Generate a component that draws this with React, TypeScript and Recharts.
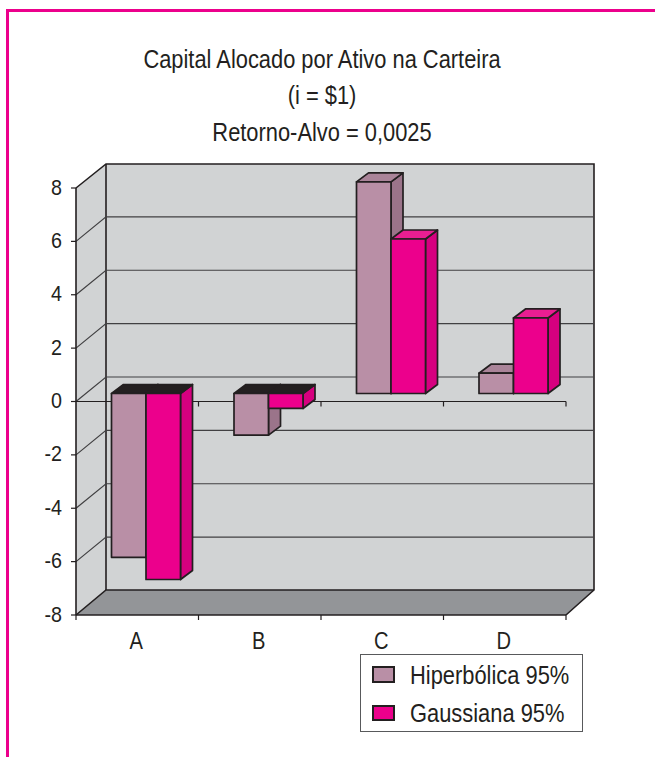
import React from "react";
import { BarChart, Bar, XAxis, YAxis, ReferenceArea, ReferenceLine, Legend } from "recharts";

const categories = ["A", "B", "C", "D"];
const hiperbolica = [-6.14, -1.56, 7.93, 0.76];
const gaussiana = [-6.97, -0.56, 5.79, 2.83];
const yTicks = [-8, -6, -4, -2, 0, 2, 4, 6, 8];
const innerGrid = [-6, -4, -2, 0, 2, 4, 6];
const titleLines = ["Capital Alocado por Ativo na Carteira", "(i = $1)", "Retorno-Alvo = 0,0025"];
const seriesNames = ["Hiperbólica 95%", "Gaussiana 95%"];

const data = categories.map((c, i) => ({ c, h: hiperbolica[i], g: gaussiana[i] }));

const FONT = "'Liberation Sans', Arial, sans-serif";
const NARROW = 0.875;
const INK = "#231f20";
const PINK = "#ec008c";
const WALL = "#d1d3d4";
const FLOOR = "#939598";

// projection of the wall depth and the bar depth
const WX = 30;
const WY = 25;
const BX = 8.5;
const BY = 8;
const DX = 12;
const DY = 9;

const makeBarShape = (front: string, side: string, top: string) => (p: any) => {
  const x = p.x + BX;
  const w = p.width;
  const yA = Math.min(p.y, p.y + p.height) - BY;
  const yB = Math.max(p.y, p.y + p.height) - BY;
  const negative = p.value != null && (Array.isArray(p.value) ? p.value[1] < 0 || p.value[0] < 0 : p.value < 0);
  const line = { stroke: INK, strokeWidth: 1.7, strokeLinejoin: "round" as const };
  return (
    <g>
      <polygon points={`${x + w},${yA} ${x + w + DX},${yA - DY} ${x + w + DX},${yB - DY} ${x + w},${yB}`} fill={side} {...line} />
      <polygon points={`${x},${yA} ${x + DX},${yA - DY} ${x + w + DX},${yA - DY} ${x + w},${yA}`} fill={negative ? INK : top} {...line} />
      <rect x={x} y={yA} width={w} height={yB - yA} fill={front} {...line} />
    </g>
  );
};

const WallsShape = (p: any) => {
  const { x, y, width, height } = p;
  const r = x + width;
  const b = y + height;
  const line = { stroke: INK, strokeWidth: 1.6 };
  return (
    <g>
      <polygon points={`${x},${y} ${x + WX},${y - WY + 1} ${x + WX},${b - WY} ${x},${b}`} fill={WALL} />
      <rect x={x + WX} y={y - WY + 1} width={width - 2} height={height - 1} fill={WALL} />
      <polygon points={`${x},${b} ${r},${b} ${r + WX - 2},${b - WY} ${x + WX},${b - WY}`} fill={FLOOR} />
      <polyline points={`${x},${y} ${x + WX},${y - WY + 1} ${r + WX - 2},${y - WY + 1} ${r + WX - 2},${b - WY} ${r},${b}`} fill="none" {...line} />
      <line x1={x + WX} y1={y - WY + 1} x2={x + WX} y2={b - WY} {...line} />
      <polyline points={`${x},${b} ${x + WX},${b - WY} ${r + WX - 2},${b - WY}`} fill="none" {...line} />
    </g>
  );
};

const GridShape = (p: any) => {
  const { x1, x2, y1 } = p;
  return (
    <polyline
      points={`${x1},${y1} ${x1 + WX},${y1 - WY + 0.5} ${x2 + WX - 2},${y1 - WY + 0.5}`}
      fill="none"
      stroke="#414042"
      strokeWidth={1.2}
    />
  );
};

const ZeroShape = (p: any) => {
  const { x1, x2, y1 } = p;
  const band = (x2 - x1) / categories.length;
  return (
    <g stroke={INK} strokeWidth={1.2}>
      <line x1={x1 - 5} x2={x2} y1={y1} y2={y1} />
      {categories.map((_, i) => (
        <line key={i} x1={x1 + band * (i + 1)} x2={x1 + band * (i + 1)} y1={y1} y2={y1 + 5} />
      ))}
    </g>
  );
};

const CategoryTick = (p: any) => {
  const band = p.width / categories.length;
  const isFirst = p.index === 0;
  return (
    <g>
      {isFirst && <line x1={p.x - band / 2} x2={p.x - band / 2} y1={p.y} y2={p.y + 5} stroke={INK} strokeWidth={1.2} />}
      <line x1={p.x + band / 2} x2={p.x + band / 2} y1={p.y} y2={p.y + 5} stroke={INK} strokeWidth={1.2} />
      <text transform={`translate(${p.x - 1},${p.y + 34}) scale(${NARROW},1)`} textAnchor="middle" fontFamily={FONT} fontSize={23} fill={INK}>
        {p.payload.value}
      </text>
    </g>
  );
};

const ValueTick = (p: any) => (
  <text transform={`translate(62,${p.y + 6.5}) scale(${NARROW},1)`} textAnchor="end" fontFamily={FONT} fontSize={22.5} fill={INK}>
    {p.payload.value}
  </text>
);

const LegendBox = ({ payload }: any) => (
  <div style={{ position: "relative", width: 223, height: 78, boxSizing: "border-box", border: "1.5px solid #58595b", background: "#fff" }}>
    {(payload || []).map((it: any, i: number) => (
      <div key={it.value} style={{ position: "absolute", left: 0, top: i === 0 ? 0 : 38, height: 38, width: 220 }}>
        <div style={{ position: "absolute", left: 11, top: i === 0 ? 11 : 12, width: 23, height: i === 0 ? 17 : 16, boxSizing: "border-box", border: `2px solid ${INK}`, background: it.color }} />
        <span style={{ position: "absolute", left: 49, top: 5, fontFamily: FONT, fontSize: 25, lineHeight: "30px", color: INK, whiteSpace: "nowrap", transform: `scaleX(${NARROW})`, transformOrigin: "left center" }}>
          {it.value}
        </span>
      </div>
    ))}
  </div>
);

export default function App() {
  return (
    <div style={{ position: "absolute", left: 0, top: 0, width: 655, height: 757, background: "#fff", overflow: "hidden" }}>
      <BarChart
        width={655}
        height={757}
        data={data}
        margin={{ top: 188, right: 89, bottom: 112, left: 16 }}
        barSize={34.5}
        barGap={0}
      >
        <XAxis
          dataKey="c"
          height={30}
          axisLine={{ stroke: INK, strokeWidth: 1.5 }}
          tickLine={false}
          tickSize={0}
          tickMargin={0}
          interval={0}
          tick={<CategoryTick />}
        />
        <YAxis
          width={60}
          domain={[-8, 8]}
          ticks={yTicks}
          interval={0}
          tickSize={5}
          axisLine={{ stroke: INK, strokeWidth: 1.6 }}
          tickLine={{ stroke: INK, strokeWidth: 1.2 }}
          tick={<ValueTick />}
        />
        <ReferenceArea y1={-8} y2={8} shape={WallsShape} zIndex={-300} fill="none" stroke="none" />
        {innerGrid.map((v) => (
          <ReferenceLine key={v} y={v} shape={GridShape} zIndex={-200} />
        ))}
        <ReferenceLine y={0} shape={ZeroShape} zIndex={-100} />
        <Bar dataKey="h" name={seriesNames[0]} fill="#b98fa6" isAnimationActive={false} shape={makeBarShape("#b98fa6", "#9b748a", "#aa8499")} />
        <Bar dataKey="g" name={seriesNames[1]} fill={PINK} isAnimationActive={false} shape={makeBarShape(PINK, "#d6007f", "#e91e92")} />
        <Legend
          layout="vertical"
          align="center"
          verticalAlign="middle"
          itemSorter={null as any}
          wrapperStyle={{ position: "absolute", left: 360, top: 654, width: 223, height: 78 }}
          content={<LegendBox />}
        />
        {titleLines.map((t, i) => (
          <text key={t} transform={`translate(322,${[68, 104, 141][i]}) scale(${NARROW},1)`} textAnchor="middle" fontFamily={FONT} fontSize={25} fill={INK}>
            {t}
          </text>
        ))}
      </BarChart>
      <div style={{ position: "absolute", left: 6, top: 9, width: 649, height: 3, background: PINK }} />
      <div style={{ position: "absolute", left: 6, top: 9, width: 3, height: 748, background: PINK }} />
    </div>
  );
}
